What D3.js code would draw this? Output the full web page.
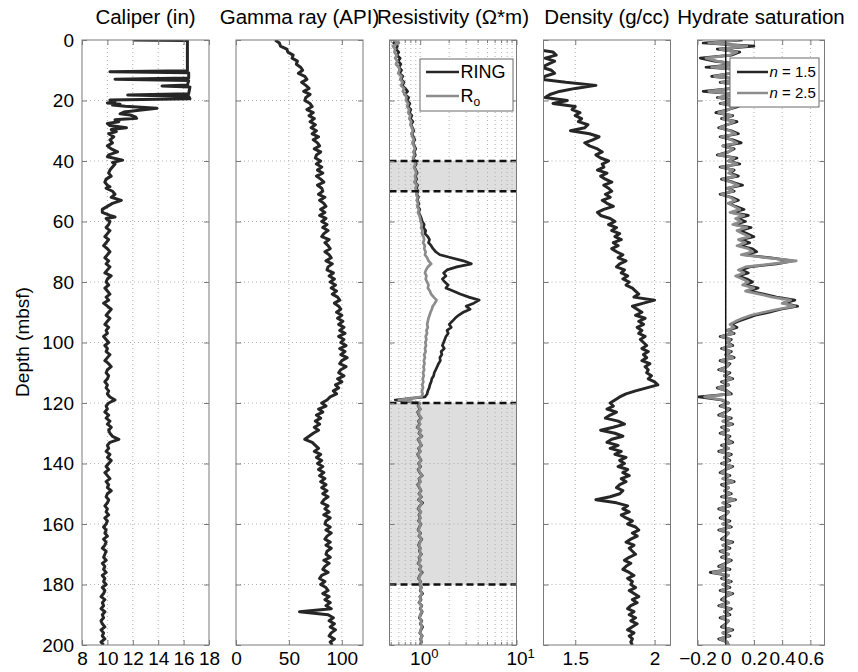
<!DOCTYPE html>
<html><head><meta charset="utf-8">
<script src="https://cdn.jsdelivr.net/npm/d3@7"></script>
<style>body{margin:0;background:#fff} svg text{font-family:"Liberation Sans",Arial,Helvetica,sans-serif}</style>
</head><body><svg id="c" width="858" height="672"></svg>
<script>
// ---------------- DATA ----------------
// depth sampling grid (mbsf), 1 m steps
const depth = d3.range(0, 201);

// Caliper (in): irregular samples near the top, then 1 m samples
const caliperTopDepth = [0,0.15,10.2,10.5,10.8,12.6,13.0,13.4,14.9,15.2,15.5,17.8,18.2,18.6,19.4,19.8,20.3,20.8,21.2,21.5,21.9,22.6,23.2,23.8,24.4,24.8,25.4,25.9,26.4,27.0,27.6,28.3,29.0,29.6,30.3,31,32,33,34,35,36,37,38,38.6,39.7,40.5,41,42,43,44,45,46,47,48,48.5,49,50,51,52,53,54,55,56,57,58,58.5,59,60];
const caliperTopVal = [12.0,16.3,16.3,10.2,16.4,16.4,10.6,16.4,16.3,14.3,16.5,16.4,11.6,16.4,16.5,10.2,10.6,10.0,11.0,10.4,11.4,13.9,12.5,11.3,11.0,11.8,12.2,12.3,10.6,10.9,10.0,10.2,11.5,10.3,10.7,10.1,10.5,10.2,10.4,10.0,10.3,10.8,10.1,10.0,11.2,10.4,10.6,10.4,10.2,10.1,10.3,9.9,9.8,10.0,10.2,9.9,10.4,10.6,10.3,11.1,10.4,10.0,9.6,9.6,10.2,10.6,9.9,10.2];
const caliperLowDepth = d3.range(61, 201);
const caliperLowVal = [
10.1,9.9,10.2,10.0,9.8,10.1,9.9,9.7,10.0,10.2,
10.0,9.8,10.1,9.9,10.2,10.0,9.8,10.3,10.0,9.9,
10.1,9.8,10.0,10.2,9.9,10.1,9.7,10.0,10.3,10.1,
9.9,10.2,10.0,9.8,10.1,9.9,10.0,9.7,9.9,10.1,
9.8,10.0,9.9,10.2,10.0,9.8,10.1,10.3,10.0,9.9,
10.1,10.0,9.8,10.0,9.9,10.1,10.0,10.2,10.6,10.1,
9.9,10.0,9.8,10.1,9.9,10.2,10.0,10.3,10.1,10.2,
10.4,10.9,10.2,10.0,10.1,9.9,10.2,10.0,10.3,10.1,
9.9,10.1,9.8,10.0,10.2,9.9,10.1,10.0,10.3,10.0,
9.9,10.1,10.0,9.8,10.0,9.9,10.1,9.8,10.0,9.9,
9.7,9.9,9.8,10.0,9.7,9.9,9.8,9.6,9.9,9.8,
9.7,9.9,9.6,9.8,9.7,9.9,9.6,9.8,9.7,9.9,
9.6,9.8,9.7,9.5,9.8,9.6,9.7,9.5,9.8,9.6,
9.7,9.5,9.6,9.8,9.5,9.7,9.6,9.8,9.5,9.7];

// Gamma ray (API)
const gamma = [
37,41,42,48,49,54,53,58,57,61,
63,59,65,67,62,66,69,64,70,66,
65,70,72,67,73,69,74,70,75,71,
76,72,78,73,77,79,74,80,76,75,
80,76,81,77,82,76,80,83,77,81,
82,78,84,79,83,85,80,84,79,85,
81,86,82,87,83,81,88,84,87,89,
84,88,90,85,91,87,86,92,88,93,
89,94,90,95,91,96,98,93,97,99,
95,100,96,101,97,102,98,103,97,102,
99,104,98,103,99,105,100,98,104,99,
97,102,96,100,94,97,92,95,89,86,
81,85,78,82,76,80,75,79,74,78,
73,69,65,72,75,78,74,80,76,81,
77,82,78,83,79,84,80,85,81,86,
82,87,83,81,87,84,88,83,89,85,
84,89,85,90,86,84,89,85,90,86,
85,89,83,88,84,82,87,81,79,84,
80,85,87,82,88,84,89,85,90,60,
87,92,88,93,89,94,90,88,93,89,
91];

// Resistivity (ohm-m): RING and Ro
const ring = [
0.55,0.53,0.58,0.56,0.60,0.57,0.62,0.59,0.63,0.60,
0.64,0.61,0.66,0.63,0.68,0.65,0.70,0.74,0.69,0.76,
0.73,0.78,0.75,0.80,0.77,0.82,0.79,0.84,0.80,0.83,
0.86,0.82,0.85,0.88,0.84,0.87,0.90,0.86,0.89,0.85,
0.88,0.91,0.87,0.90,0.93,0.89,0.92,0.88,0.94,0.91,
0.95,0.92,0.96,0.93,0.97,0.94,0.99,0.96,1.00,1.03,
1.05,1.10,1.08,1.14,1.12,1.20,1.25,1.22,1.30,1.36,
1.45,1.60,2.10,2.80,3.40,2.40,1.90,1.75,1.85,1.70,
1.80,1.95,1.85,2.20,2.60,3.20,4.10,3.60,3.00,3.30,
2.80,2.50,2.30,2.15,2.00,2.10,1.90,1.95,1.85,1.80,
1.75,1.70,1.78,1.65,1.68,1.60,1.62,1.55,1.50,1.45,
1.40,1.38,1.32,1.30,1.26,1.24,1.20,1.18,1.12,0.55,
0.98,0.95,1.00,0.94,0.97,1.02,0.96,0.99,0.93,1.01,
0.97,1.04,0.95,0.99,1.03,0.96,1.00,0.94,0.98,1.02,
0.96,1.01,0.95,0.99,1.05,0.97,1.00,0.94,0.98,1.02,
0.97,1.03,0.96,1.06,0.99,0.95,1.01,0.97,1.00,0.96,
1.02,0.98,0.95,1.01,0.97,1.04,0.99,0.96,1.00,0.98,
1.03,0.97,1.00,0.95,1.02,0.98,1.05,0.99,0.96,1.01,
0.98,1.03,1.00,1.06,0.99,1.02,0.97,1.04,1.00,1.05,
1.01,0.98,1.04,1.00,1.06,1.02,0.99,1.05,1.01,1.03,
1.00];
const ro = [
0.53,0.60,0.52,0.55,0.54,0.57,0.55,0.58,0.56,0.60,
0.61,0.59,0.64,0.62,0.66,0.63,0.68,0.66,0.70,0.72,
0.71,0.75,0.73,0.77,0.75,0.79,0.77,0.81,0.79,0.82,
0.84,0.81,0.83,0.86,0.83,0.86,0.88,0.85,0.87,0.84,
0.87,0.89,0.86,0.89,0.91,0.88,0.90,0.87,0.92,0.89,
0.93,0.91,0.94,0.92,0.95,0.93,0.97,0.95,0.98,1.00,
1.01,1.04,1.02,1.06,1.04,1.08,1.10,1.07,1.12,1.10,
1.14,1.12,1.18,1.22,1.30,1.20,1.15,1.12,1.16,1.14,
1.18,1.22,1.20,1.26,1.30,1.38,1.48,1.42,1.35,1.32,
1.28,1.25,1.22,1.20,1.18,1.20,1.16,1.18,1.14,1.16,
1.13,1.15,1.12,1.14,1.10,1.12,1.09,1.11,1.08,1.10,
1.07,1.09,1.06,1.08,1.05,1.07,1.04,1.06,1.03,0.60,
0.99,0.96,1.01,0.95,0.98,1.03,0.97,1.00,0.94,1.02,
0.98,1.03,0.96,1.00,1.02,0.97,1.01,0.95,0.99,1.01,
0.97,1.00,0.96,1.00,1.04,0.98,1.01,0.95,0.99,1.01,
0.98,1.02,0.97,1.04,1.00,0.96,1.02,0.98,1.01,0.97,
1.01,0.99,0.96,1.00,0.98,1.03,1.00,0.97,1.01,0.99,
1.02,0.98,1.01,0.96,1.01,0.99,1.03,1.00,0.97,1.00,
0.99,1.02,1.01,1.04,1.00,1.01,0.98,1.03,1.01,1.04,
1.00,0.99,1.03,1.01,1.04,1.01,1.00,1.04,1.02,1.02,
1.01];

// Density (g/cc)
const density = [
1.25,1.22,1.27,1.24,1.36,1.38,1.31,1.37,1.33,1.29,
1.35,1.37,1.31,1.29,1.44,1.63,1.50,1.40,1.34,1.31,
1.45,1.36,1.50,1.48,1.53,1.50,1.54,1.52,1.58,1.56,
1.47,1.59,1.65,1.61,1.56,1.59,1.64,1.67,1.63,1.66,
1.71,1.67,1.68,1.64,1.70,1.66,1.69,1.73,1.68,1.71,
1.73,1.69,1.72,1.67,1.70,1.74,1.68,1.64,1.66,1.72,
1.75,1.71,1.76,1.73,1.78,1.75,1.79,1.74,1.77,1.73,
1.76,1.80,1.77,1.82,1.78,1.76,1.81,1.79,1.83,1.80,
1.84,1.82,1.86,1.88,1.90,1.87,2.00,1.93,1.86,1.89,
1.92,1.88,1.94,1.90,1.93,1.89,1.92,1.90,1.94,1.91,
1.93,1.95,1.92,1.96,1.93,1.95,1.92,1.97,1.94,1.96,
1.95,1.98,1.96,2.00,2.02,1.95,1.88,1.82,1.78,1.75,
1.72,1.74,1.70,1.76,1.72,1.69,1.77,1.81,1.74,1.66,
1.75,1.80,1.73,1.70,1.77,1.72,1.79,1.75,1.82,1.78,
1.81,1.77,1.83,1.80,1.84,1.79,1.82,1.78,1.76,1.80,
1.78,1.72,1.63,1.76,1.83,1.80,1.84,1.79,1.82,1.86,
1.83,1.88,1.90,1.86,1.89,1.85,1.82,1.87,1.84,1.86,
1.88,1.84,1.81,1.85,1.82,1.80,1.84,1.87,1.83,1.86,
1.85,1.88,1.84,1.87,1.90,1.86,1.89,1.85,1.83,1.87,
1.84,1.88,1.85,1.89,1.86,1.83,1.87,1.84,1.86,1.85,
1.86];

// Hydrate saturation, n = 1.5 and n = 2.5
const sh15 = [
0.12,-0.16,0.20,-0.06,0.10,0.04,-0.18,-0.08,0.09,-0.14,
0.16,0.04,-0.10,0.13,-0.04,0.15,0.05,-0.16,0.11,-0.06,
0.07,-0.04,0.09,0.02,-0.07,0.05,-0.03,0.08,0.01,-0.05,
0.04,0.09,-0.04,0.05,0.11,-0.02,0.06,0.02,-0.06,0.08,
0.02,0.10,-0.04,0.06,0.03,0.09,-0.03,0.05,0.12,0.01,
0.06,-0.04,0.04,0.09,0.02,0.07,0.13,0.04,0.16,0.08,
0.14,0.06,0.18,0.10,0.15,0.20,0.11,0.17,0.10,0.19,
0.22,0.13,0.32,0.47,0.36,0.17,0.11,0.16,0.09,0.15,
0.19,0.14,0.23,0.17,0.27,0.36,0.49,0.41,0.51,0.39,
0.31,0.21,0.15,0.09,0.04,0.08,0.01,0.06,-0.04,0.04,
0.01,0.05,-0.03,0.04,0.00,0.06,-0.04,0.03,0.01,-0.05,
0.03,-0.01,0.05,-0.03,0.02,-0.06,0.01,0.04,-0.19,-0.03,
0.02,-0.04,0.03,0.00,-0.05,0.04,-0.02,0.05,-0.03,0.02,
-0.04,0.03,0.00,0.05,-0.03,0.02,-0.05,0.04,-0.01,0.03,
-0.03,0.05,0.00,-0.04,0.03,-0.02,0.06,-0.03,0.02,-0.01,
0.04,-0.03,0.07,-0.02,0.03,-0.05,0.02,0.00,-0.04,0.03,
-0.02,0.04,-0.05,0.02,0.00,-0.03,0.05,-0.02,0.03,-0.04,
0.02,-0.03,0.04,0.00,-0.05,0.03,-0.11,0.02,-0.03,0.04,
-0.02,0.03,-0.04,0.05,0.00,-0.03,0.02,-0.05,0.04,-0.01,
0.03,-0.04,0.02,0.00,-0.03,0.05,-0.02,0.03,-0.05,0.01,
0.02];
const sh25 = [
0.09,-0.12,0.15,-0.04,0.08,0.03,-0.14,-0.06,0.07,-0.10,
0.12,0.03,-0.08,0.10,-0.03,0.11,0.04,-0.12,0.08,-0.05,
0.05,-0.03,0.07,0.02,-0.05,0.04,-0.02,0.06,0.01,-0.04,
0.03,0.07,-0.03,0.04,0.08,-0.02,0.05,0.02,-0.05,0.06,
0.02,0.08,-0.03,0.05,0.02,0.07,-0.02,0.04,0.09,0.01,
0.05,-0.03,0.03,0.07,0.02,0.06,0.10,0.03,0.13,0.07,
0.11,0.05,0.15,0.08,0.12,0.17,0.09,0.14,0.08,0.16,
0.19,0.11,0.30,0.50,0.33,0.14,0.09,0.13,0.07,0.12,
0.16,0.12,0.20,0.14,0.24,0.33,0.46,0.40,0.49,0.37,
0.27,0.18,0.12,0.07,0.03,0.06,0.01,0.05,-0.03,0.03,
0.01,0.04,-0.02,0.03,0.00,0.05,-0.03,0.02,0.01,-0.04,
0.02,-0.01,0.04,-0.02,0.02,-0.05,0.01,0.03,-0.15,-0.02,
0.02,-0.03,0.02,0.00,-0.04,0.03,-0.02,0.04,-0.02,0.02,
-0.03,0.02,0.00,0.04,-0.02,0.02,-0.04,0.03,-0.01,0.02,
-0.02,0.04,0.00,-0.03,0.02,-0.02,0.05,-0.02,0.02,-0.01,
0.03,-0.02,0.06,-0.02,0.02,-0.04,0.02,0.00,-0.03,0.02,
-0.02,0.03,-0.04,0.02,0.00,-0.02,0.04,-0.02,0.02,-0.03,
0.02,-0.02,0.03,0.00,-0.04,0.02,-0.09,0.02,-0.02,0.03,
-0.02,0.02,-0.03,0.04,0.00,-0.02,0.02,-0.04,0.03,-0.01,
0.02,-0.03,0.02,0.00,-0.02,0.04,-0.02,0.02,-0.04,0.01,
0.02];

// Highlighted depth intervals in the resistivity track (mbsf)
const shadedIntervals = [[40, 50], [120, 180]];

// Axis labels / ticks
const titles = ["Caliper (in)", "Gamma ray (API)", "Resistivity (\u03A9*m)", "Density (g/cc)", "Hydrate saturation"];
const depthTicks = [0, 20, 40, 60, 80, 100, 120, 140, 160, 180, 200];
const caliperTicks = [8, 10, 12, 14, 16, 18];
const gammaTicks = [0, 50, 100];
const resTicks = [1, 10];
const resMinor = [0.5, 0.6, 0.7, 0.8, 0.9, 2, 3, 4, 5, 6, 7, 8, 9];
const densityTicks = [1.5, 2];
const hydrateTicks = [-0.2, 0, 0.2, 0.4, 0.6];

// ---------------- DRAWING ----------------
const svg = d3.select("#c");
const TOP = 40, BOT = 645, PW = 127;
const lefts = [82, 236, 389.5, 543.5, 697.5];
const FONT = '"Liberation Sans",Arial,Helvetica,sans-serif';
const DARK = "#262626", GRAY = "#8c8c8c", AXC = "#7a7a7a";
const y = d3.scaleLinear().domain([0, 200]).range([TOP, BOT]);

function zip(ds, vs) { const n = Math.min(ds.length, vs.length); const o = []; for (let i = 0; i < n; i++) o.push([ds[i], vs[i]]); return o; }

const caliperData = zip(caliperTopDepth, caliperTopVal).concat(zip(caliperLowDepth, caliperLowVal));

const panels = [
  { x: d3.scaleLinear().domain([8, 18]), ticks: caliperTicks, fmt: d3.format("d"),
    series: [{ data: caliperData, color: DARK, w: 3 }] },
  { x: d3.scaleLinear().domain([0, 120]), ticks: gammaTicks, fmt: d3.format("d"),
    series: [{ data: zip(depth, gamma), color: DARK, w: 3 }] },
  { x: d3.scaleLog().domain([0.48, 10]), ticks: resTicks, log: true, minor: resMinor,
    series: [{ data: zip(depth, ring), color: DARK, w: 2.7 }, { data: zip(depth, ro), color: GRAY, w: 2.7 }] },
  { x: d3.scaleLinear().domain([1.3, 2.1]), ticks: densityTicks, fmt: d => d3.format("")(d),
    series: [{ data: zip(depth, density), color: DARK, w: 3 }] },
  { x: d3.scaleLinear().domain([-0.2, 0.7]), ticks: hydrateTicks, fmt: d => d === 0 ? "0" : d3.format(".1f")(d), zero: true,
    series: [{ data: zip(depth, sh15), color: DARK, w: 2.7 }, { data: zip(depth, sh25), color: GRAY, w: 2.7 }] }
];

panels.forEach((p, i) => {
  const L = lefts[i], R = L + PW;
  const x = p.x.range([L, R]);
  const g = svg.append("g");
  const clipId = "clip" + i;
  g.append("clipPath").attr("id", clipId).append("rect").attr("x", L).attr("y", TOP).attr("width", PW).attr("height", BOT - TOP);

  if (p.log) {
    shadedIntervals.forEach(iv => {
      g.append("rect").attr("x", L).attr("width", PW).attr("y", y(iv[0])).attr("height", y(iv[1]) - y(iv[0])).attr("fill", "#dedede");
    });
  }

  const grid = g.append("g").attr("stroke", "#a8a8a8").attr("stroke-width", 0.9).attr("stroke-dasharray", "1,3");
  const vgrid = p.ticks.concat(p.minor || []);
  vgrid.forEach(t => {
    const xx = x(t);
    if (xx > L + 0.5 && xx < R - 0.5) grid.append("line").attr("x1", xx).attr("x2", xx).attr("y1", TOP).attr("y2", BOT);
  });
  depthTicks.forEach(t => {
    if (t > 0 && t < 200) grid.append("line").attr("x1", L).attr("x2", R).attr("y1", y(t)).attr("y2", y(t));
  });

  const cg = g.append("g").attr("clip-path", `url(#${clipId})`);
  const line = d3.line().x(d => x(d[1])).y(d => y(d[0]));
  p.series.forEach(s => {
    cg.append("path").datum(s.data).attr("d", line).attr("fill", "none").attr("stroke", s.color)
      .attr("stroke-width", s.w).attr("stroke-linejoin", "round");
  });

  if (p.log) {
    shadedIntervals.forEach(iv => iv.forEach(dv => {
      g.append("line").attr("x1", L).attr("x2", R).attr("y1", y(dv)).attr("y2", y(dv))
        .attr("stroke", "#111").attr("stroke-width", 2.4).attr("stroke-dasharray", "7,4");
    }));
  }
  if (p.zero) {
    g.append("line").attr("x1", x(0)).attr("x2", x(0)).attr("y1", TOP).attr("y2", BOT).attr("stroke", "#111").attr("stroke-width", 1.5);
  }

  g.append("rect").attr("x", L).attr("y", TOP).attr("width", PW).attr("height", BOT - TOP)
    .attr("fill", "none").attr("stroke", AXC).attr("stroke-width", 1);

  const styleAxis = sel => { sel.select(".domain").remove(); sel.attr("color", AXC).attr("font-size", 19).attr("font-family", FONT); sel.selectAll("text").attr("fill", "#000"); };
  const xb = d3.axisBottom(x).tickValues(p.ticks).tickSizeInner(-5).tickSizeOuter(0).tickPadding(7);
  if (p.fmt) xb.tickFormat(p.fmt);
  const bot = g.append("g").attr("transform", `translate(0,${BOT})`).call(xb).call(styleAxis);
  if (p.log) {
    bot.selectAll(".tick text").each(function(d) {
      const t = d3.select(this); t.text("10").attr("dx", 3.6);
      t.append("tspan").attr("dy", "-0.55em").attr("font-size", 13).text(String(Math.round(Math.log10(d))));
    });
    const mg = g.append("g").attr("stroke", AXC).attr("stroke-width", 1);
    p.minor.forEach(t => {
      const xx = x(t);
      mg.append("line").attr("x1", xx).attr("x2", xx).attr("y1", BOT).attr("y2", BOT - 3);
      mg.append("line").attr("x1", xx).attr("x2", xx).attr("y1", TOP).attr("y2", TOP + 3);
    });
  }
  g.append("g").attr("transform", `translate(0,${TOP})`).call(d3.axisTop(x).tickValues(p.ticks).tickFormat("").tickSizeInner(-5).tickSizeOuter(0)).call(styleAxis);
  const yl = d3.axisLeft(y).tickValues(depthTicks).tickSizeInner(-5).tickSizeOuter(0).tickPadding(8);
  if (i !== 0) yl.tickFormat("");
  g.append("g").attr("transform", `translate(${L},0)`).call(yl).call(styleAxis);
  g.append("g").attr("transform", `translate(${R},0)`).call(d3.axisRight(y).tickValues(depthTicks).tickFormat("").tickSizeInner(-5).tickSizeOuter(0)).call(styleAxis);

  svg.append("text").attr("x", L + PW / 2).attr("y", 24).attr("text-anchor", "middle")
    .attr("font-size", 20.5).attr("fill", "#000").text(titles[i]);
});

svg.append("text").attr("transform", "translate(29,342) rotate(-90)").attr("text-anchor", "middle")
  .attr("font-size", 19).attr("fill", "#000").text("Depth (mbsf)");

function legend(x0, y0, w, h, rows, lx1, lx2, fs, drawLabel) {
  const g = svg.append("g");
  g.append("rect").attr("x", x0).attr("y", y0).attr("width", w).attr("height", h).attr("fill", "#fff").attr("stroke", "#6a6a6a").attr("stroke-width", 1);
  rows.forEach(r => {
    g.append("line").attr("x1", lx1).attr("x2", lx2).attr("y1", r.y).attr("y2", r.y).attr("stroke", r.color).attr("stroke-width", 2.5);
    const t = g.append("text").attr("x", lx2 + 1.5).attr("y", r.y).attr("dy", "0.36em").attr("font-size", fs).attr("fill", "#000");
    drawLabel(t, r);
  });
}
legend(420, 59, 93, 52, [{ y: 72, color: DARK, key: "RING" }, { y: 96, color: GRAY, key: "Ro" }], 426, 459, 18,
  (t, r) => { if (r.key === "RING") t.text("RING"); else { t.text("R"); t.append("tspan").attr("font-size", 12).attr("dy", "0.3em").text("o"); } });
legend(730, 58, 89, 49, [{ y: 72, color: DARK, key: "1.5" }, { y: 93, color: GRAY, key: "2.5" }], 737, 768, 15,
  (t, r) => { t.append("tspan").attr("font-style", "italic").text("n"); t.append("tspan").text(" = " + r.key); });
</script>
</body></html>
